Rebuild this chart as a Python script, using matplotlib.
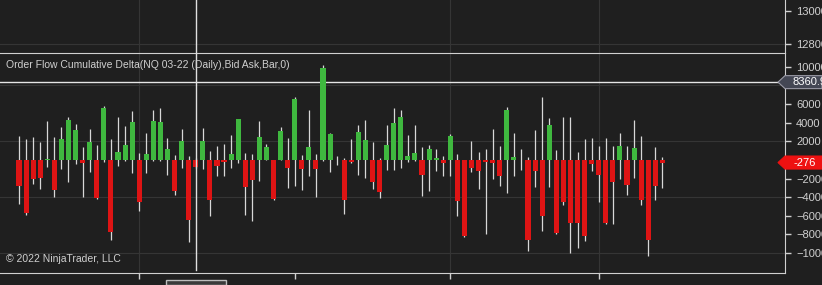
import numpy as np
import matplotlib
matplotlib.use('Agg')
import matplotlib.pyplot as plt
from matplotlib.patches import Polygon, Rectangle
import matplotlib.transforms as mtransforms

# cumulative delta per daily bar (open is 0 every day)
close = [-2760, -5730, -2040, -1930, 100, -3220, 2250, 4300, 3220, -320,
         1970, -4080, 5580, -7770, 820, 1610, 4120, -4550, 640, 4220,
         4120, 1180, -3290, 2080, -6440, -720, 2080, -4260, -610, -180,
         640, 4400, -2870, -2110, 2510, 1360, -4190, 3150, -900, 6550,
         -970, 1360, -970, 9850, 2790, 30, -4260, -180, 2970, 2180,
         -2400, -3470, 1610, 3950, 4650, 470, 720, -1580, 1180, 210,
         -360, 2610, -4440, -8120, -860, -1140, -250, -290, -1680, 5370,
         360, 20, -8590, -1220, -5980, 3800, -7880, -4500, -6750, -6770,
         -8200, -430, -1610, -6770, -2330, 1470, -2690, 1250, -4260, -8560,
         -2830, -276]
high = [2600, 2250, 2430, 1970, 4220, 2430, 3580, 4580, 3870, 1360,
        3330, 1610, 5830, 2250, 4580, 3690, 5300, 750, 2900, 5370,
        5580, 2360, 540, 3330, 470, 200, 3480, 1000, 1470, 1720,
        2690, 4450, 750, 640, 4220, 1720, 50, 3510, 2330, 6730,
        540, 5400, 640, 10200, 2900, 470, 180, 2250, 3760, 4300,
        1900, 180, 3760, 5560, 5370, 2720, 3800, 1430, 1610, 1180,
        470, 2790, 640, 50, 2010, 820, 1180, 3330, 1540, 5730,
        2860, 1180, 290, 3220, 6800, 4510, 1070, 4580, 4580, 820,
        2300, 2330, 1540, 2330, 1540, 2900, 1470, 4300, 2540, 50,
        1360, 290]
low = [-4720, -5870, -2580, -3110, -790, -4010, -970, -2330, -430, -3940,
       -1320, -4190, -250, -8560, -610, -140, -1430, -5440, -1430, -70,
       -70, -1580, -3760, -860, -8840, -900, -1000, -5980, -1750, -1750,
       -900, -320, -5870, -6520, -2220, -50, -4250, -50, -3040, -2760,
       -3190, -1750, -4010, -70, -1320, -540, -5800, -320, -1610, -1970,
       -3110, -4120, -1040, -1060, -860, -250, -140, -3830, -3290, -1220,
       -1680, -1680, -5980, -8230, -1320, -3110, -7950, -2040, -2760, -3580,
       -1680, -1070, -9740, -2940, -7590, -2870, -7950, -4800, -10000, -9450,
       -8660, -1140, -4480, -6880, -6880, -2040, -3760, -1970, -4830, -10350,
       -4260, -3040]

month_ticks = [17, 39, 61, 82]
month_grid = [17, 61, 82]
delta_ticks = [10000, 6000, 4000, 2000, -2000, -4000, -6000, -8000, -10000]
delta_grid = [8000, 2000, -4000, -10000]
price_ticks = [13000, 12800]
line_level = 8360.9
last_value = -276
cursor_bar = 25

W, H = 822, 285
bg = '#1f1f1f'
fg = '#d0d0d0'
grid_c = '#353535'
up_c = '#3fb83f'
dn_c = '#de1414'
plt.rcParams['font.family'] = ['Liberation Sans', 'DejaVu Sans']

fig = plt.figure(figsize=(W / 100, H / 100), dpi=100, facecolor=bg)


def box(x0, y0, x1, y1):
    return [x0 / W, 1 - y1 / H, (x1 - x0) / W, (y1 - y0) / H]


ax_p = fig.add_axes(box(0, 0, 785, 53))
ax = fig.add_axes(box(0, 53, 785, 273))

x = np.arange(len(close))
xlim = (-19 / 7.07, (785 - 19) / 7.07)

for a in (ax_p, ax):
    a.set_facecolor(bg)
    a.set_xlim(*xlim)
    a.yaxis.tick_right()
    for s in ('left', 'top', 'bottom'):
        a.spines[s].set_visible(False)
    a.spines['right'].set_color(fg)
    a.tick_params(axis='y', colors=fg, labelcolor=fg, labelsize=8,
                  length=4, width=1, pad=4)
    for m in month_grid:
        a.axvline(m, color=grid_c, lw=0.8, zorder=0)
    a.axvline(cursor_bar, color='#e0e0e0', lw=1, zorder=5,
              ymin=0.015 if a is ax else 0)

# price panel (empty at this zoom)
ax_p.set_ylim(12745, 13067)
ax_p.set_yticks(price_ticks)
ax_p.set_xticks([])
ax_p.axhline(12800, color=grid_c, lw=0.8, zorder=0)

# delta panel
ax.set_ylim(-12140, 11490)
ax.set_yticks(delta_ticks)
ax.set_xticks(month_ticks)
ax.set_xticklabels([])
ax.tick_params(axis='x', colors=fg, length=4, width=1)
for s in ('top', 'bottom'):
    ax.spines[s].set_visible(True)
    ax.spines[s].set_color(fg)
for g in delta_grid:
    ax.axhline(g, color=grid_c, lw=0.8, zorder=0)
ax.axhline(line_level, color='#e6e6e6', lw=1, zorder=1)

colors = [up_c if c >= 0 else dn_c for c in close]
ax.vlines(x, low, high, color='#d8d8d8', lw=0.9, zorder=2)
ax.bar(x, close, bottom=0, width=0.72, color=colors, zorder=3)

# price markers on the right axis
trans = mtransforms.blended_transform_factory(fig.transFigure, ax.transData)
hh = 6.5 * (11490 + 12140) / 220
markers = [(line_level, '#444754', '#9a9aa6', '8360.9', 792, 'left'),
           (last_value, '#ee1111', '#ee1111', str(last_value), 805, 'center')]
for v, fc, ec, lab, tx, ha in markers:
    poly = Polygon([(778 / W, v), (785 / W, v + hh), (1.0, v + hh),
                    (1.0, v - hh), (785 / W, v - hh)], closed=True,
                   transform=trans, fc=fc, ec=ec, lw=0.8, clip_on=False, zorder=10)
    fig.add_artist(poly)
    fig.text(tx / W, v, lab, transform=trans, ha=ha, va='center',
             color='white', fontsize=8, zorder=11)

fig.text(6 / W, 1 - 65 / H,
         'Order Flow Cumulative Delta(NQ 03-22 (Daily),Bid Ask,Bar,0)',
         color=fg, fontsize=7.5, va='center')
fig.text(6 / W, 1 - 259 / H, '\u00a9 2022 NinjaTrader, LLC',
         color=fg, fontsize=7.5, va='center')

# date label box of the cursor, cut by the bottom edge
fig.add_artist(Rectangle((166 / W, 0), 60 / W, 5 / H, transform=fig.transFigure,
                         fc='#3a3a3a', ec='#bdbdbd', lw=1, clip_on=False))

fig.savefig('out.png', dpi=100, facecolor=bg)
